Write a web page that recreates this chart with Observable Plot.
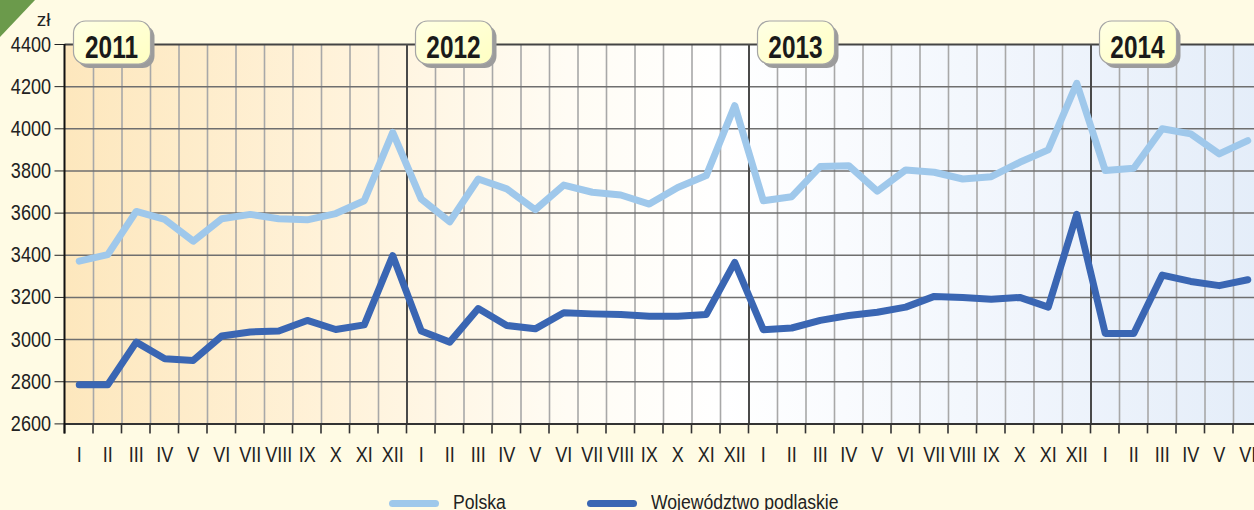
<!DOCTYPE html>
<html><head><meta charset="utf-8">
<script src="https://cdn.jsdelivr.net/npm/d3@7"></script>
<script src="https://cdn.jsdelivr.net/npm/@observablehq/plot@0.6"></script>
<style>
  html,body{margin:0;padding:0;background:#fffbe4;overflow:hidden;}
  #wrap{width:1254px;height:510px;position:relative;overflow:hidden;background:#fffbe4;}
  #legend{position:relative;height:30px;font-family:"Liberation Sans",Arial,sans-serif;font-size:20px;color:#222;}
  #legend .sw{position:absolute;height:7px;width:50px;border-radius:4px;}
  #legend .lb{position:absolute;line-height:20px;white-space:nowrap;transform:scaleX(0.88);transform-origin:0 0;}
</style>
</head><body>
<div id="wrap"><div id="chart"></div><div id="legend"></div></div>
<script>
const FONT = '"Liberation Sans",Arial,sans-serif';
const romanMonths = ["I","II","III","IV","V","VI","VII","VIII","IX","X","XI","XII"];
const years = [2011, 2012, 2013, 2014];
const monthsPerYear = [12, 12, 12, 6];
const seriesNames = ["Polska", "Województwo podlaskie"];
const seriesColors = ["#9fc8eb", "#3a66b3"];
const yTicks = [2600, 2800, 3000, 3200, 3400, 3600, 3800, 4000, 4200, 4400];
const unitLabel = "zł";
const polska = [
  3372, 3403, 3608, 3570, 3467, 3573, 3594, 3573, 3568, 3598, 3659, 3983,
  3667, 3559, 3762, 3715, 3616, 3733, 3699, 3686, 3643, 3722, 3778, 4110,
  3659, 3678, 3821, 3825, 3704, 3805, 3794, 3762, 3773, 3841, 3900, 4216,
  3802, 3813, 4000, 3976, 3881, 3944
];
const podlaskie = [
  2786, 2786, 2988, 2909, 2901, 3017, 3036, 3041, 3091, 3048, 3070, 3398,
  3041, 2988, 3147, 3067, 3051, 3127, 3122, 3119, 3111, 3111, 3119, 3366,
  3047, 3055, 3091, 3114, 3130, 3154, 3205, 3200, 3191, 3200, 3154, 3594,
  3029, 3029, 3306, 3276, 3256, 3284
];

const monthLabels = years.flatMap((y, k) => romanMonths.slice(0, monthsPerYear[k]));
const n = monthLabels.length;
const yearStart = years.map((y, k) => d3.sum(monthsPerYear.slice(0, k)));
const bounds = d3.range(n + 1).map(i => i - 0.5);
const yearBounds = yearStart.map(s => s - 0.5);
const monthBounds = bounds.filter(b => !yearBounds.includes(b));
const yMin = yTicks[0], yMax = yTicks[yTicks.length - 1];
const rows = [
  ...polska.map((v, i) => ({i, v, s: seriesNames[0]})),
  ...podlaskie.map((v, i) => ({i, v, s: seriesNames[1]}))
];

const H = 480;

const backgroundMark = (index, s) => {
  const g = d3.create("svg:g");
  const defs = g.append("defs");
  const lg = defs.append("linearGradient").attr("id", "bgGrad").attr("x1", 0).attr("x2", 1).attr("y1", 0).attr("y2", 0);
  [[0, "#fde7bd"], [0.22, "#fff2d9"], [0.42, "#fffcf4"], [0.55, "#ffffff"], [0.75, "#f3f7fd"], [1, "#e4edf9"]]
    .forEach(([o, c]) => lg.append("stop").attr("offset", o).attr("stop-color", c));
  const bg = defs.append("linearGradient").attr("id", "badgeGrad").attr("x1", 0).attr("x2", 1).attr("y1", 0).attr("y2", 1);
  bg.append("stop").attr("offset", 0).attr("stop-color", "#ffffe4");
  bg.append("stop").attr("offset", 1).attr("stop-color", "#ffffc2");
  const x0 = s.x(-0.5), x1 = s.x(n - 0.5), y0 = s.y(yMax), y1 = s.y(yMin);
  g.append("rect").attr("x", x0).attr("y", y0).attr("width", x1 - x0).attr("height", y1 - y0).attr("fill", "url(#bgGrad)");
  g.append("path").attr("d", "M0,0L35,0L0,37Z").attr("fill", "#6b9a4b");
  return g.node();
};

const furnitureMark = (index, s) => {
  const g = d3.create("svg:g");
  const y0 = s.y(yMax), y1 = s.y(yMin);
  bounds.forEach(b => {
    g.append("line").attr("x1", s.x(b)).attr("x2", s.x(b)).attr("y1", y1).attr("y2", y1 + 10)
      .attr("stroke", "#333").attr("stroke-width", 1.6);
  });
  g.append("line").attr("x1", s.x(-0.5)).attr("x2", s.x(-0.5)).attr("y1", y0).attr("y2", y1 + 10)
    .attr("stroke", "#111").attr("stroke-width", 2);
  g.append("text").attr("class", "unit").attr("x", s.x(-0.5) - 14).attr("y", y0 - 18).attr("text-anchor", "end")
    .style("font-size", "19px").attr("fill", "#222").text(unitLabel);
  return g.node();
};

const badgeMark = (index, s) => {
  const g = d3.create("svg:g");
  const top = s.y(yMax) - 23;
  years.forEach((yr, k) => {
    const x = s.x(yearStart[k] - 0.5) + 9;
    g.append("rect").attr("x", x + 4).attr("y", top + 4).attr("width", 77).attr("height", 43).attr("rx", 12)
      .attr("fill", "#9c9c9c");
    g.append("rect").attr("x", x).attr("y", top).attr("width", 77).attr("height", 43).attr("rx", 12)
      .attr("fill", "url(#badgeGrad)").attr("stroke", "#a5a5a5").attr("stroke-width", 1.2);
    g.append("text").attr("class", "badge").attr("x", x + 38).attr("y", top + 36.5).attr("text-anchor", "middle")
      .style("font-size", "30.5px").style("font-weight", "bold").attr("fill", "#1a1a1a").text(String(yr));
  });
  return g.node();
};

const plot = Plot.plot({
  width: 1254,
  height: H,
  marginTop: 44,
  marginBottom: H - 423.4,
  marginLeft: 64.5,
  marginRight: 0,
  x: {domain: [-0.5, n - 0.5], range: [64.5, 1261.5], ticks: d3.range(n), tickFormat: i => monthLabels[i], tickSize: 0, tickPadding: 22.5, label: null},
  y: {domain: [yMin, yMax], ticks: yTicks, tickFormat: d => String(d), tickSize: 10, tickPadding: 4, label: null},
  color: {domain: seriesNames, range: seriesColors},
  style: {background: "transparent", fontFamily: FONT, fontSize: "22px", color: "#222", overflow: "hidden"},
  marks: [
    backgroundMark,
    Plot.ruleX(monthBounds, {x: d => d, y1: yMin, y2: yMax, stroke: "#a8a8a8", strokeWidth: 1.6}),
    Plot.ruleY(yTicks.slice(1, -1), {y: d => d, stroke: "#6f6f6f", strokeWidth: 1.5}),
    Plot.ruleY([yMax], {y: d => d, stroke: "#444", strokeWidth: 2}),
    Plot.ruleX(yearBounds.slice(1), {x: d => d, y1: yMin, y2: yMax, stroke: "#4a4a4a", strokeWidth: 2}),
    Plot.ruleY([yMin], {y: d => d, stroke: "#333", strokeWidth: 2}),
    Plot.line(rows, {x: "i", y: "v", stroke: "s", z: "s", strokeWidth: 7, strokeLinejoin: "round", strokeLinecap: "round"}),
    furnitureMark,
    badgeMark
  ]
});
document.getElementById("chart").appendChild(plot);

// condense text horizontally (narrow typeface look)
plot.querySelectorAll("text").forEach(t => {
  if (t.classList.contains("unit")) return;
  const f = t.classList.contains("badge") ? 0.8 : 0.82;
  const L = t.getComputedTextLength();
  if (L > 0) {
    t.setAttribute("textLength", L * f);
    t.setAttribute("lengthAdjust", "spacingAndGlyphs");
  }
});

const legend = d3.select("#legend");
const legendX = [389, 587];
seriesNames.forEach((name, k) => {
  legend.append("div").attr("class", "sw").style("left", legendX[k] + "px").style("top", "20px").style("background", seriesColors[k]);
  legend.append("div").attr("class", "lb").style("left", (legendX[k] + 64) + "px").style("top", "12px").text(name);
});
</script>
</body></html>
